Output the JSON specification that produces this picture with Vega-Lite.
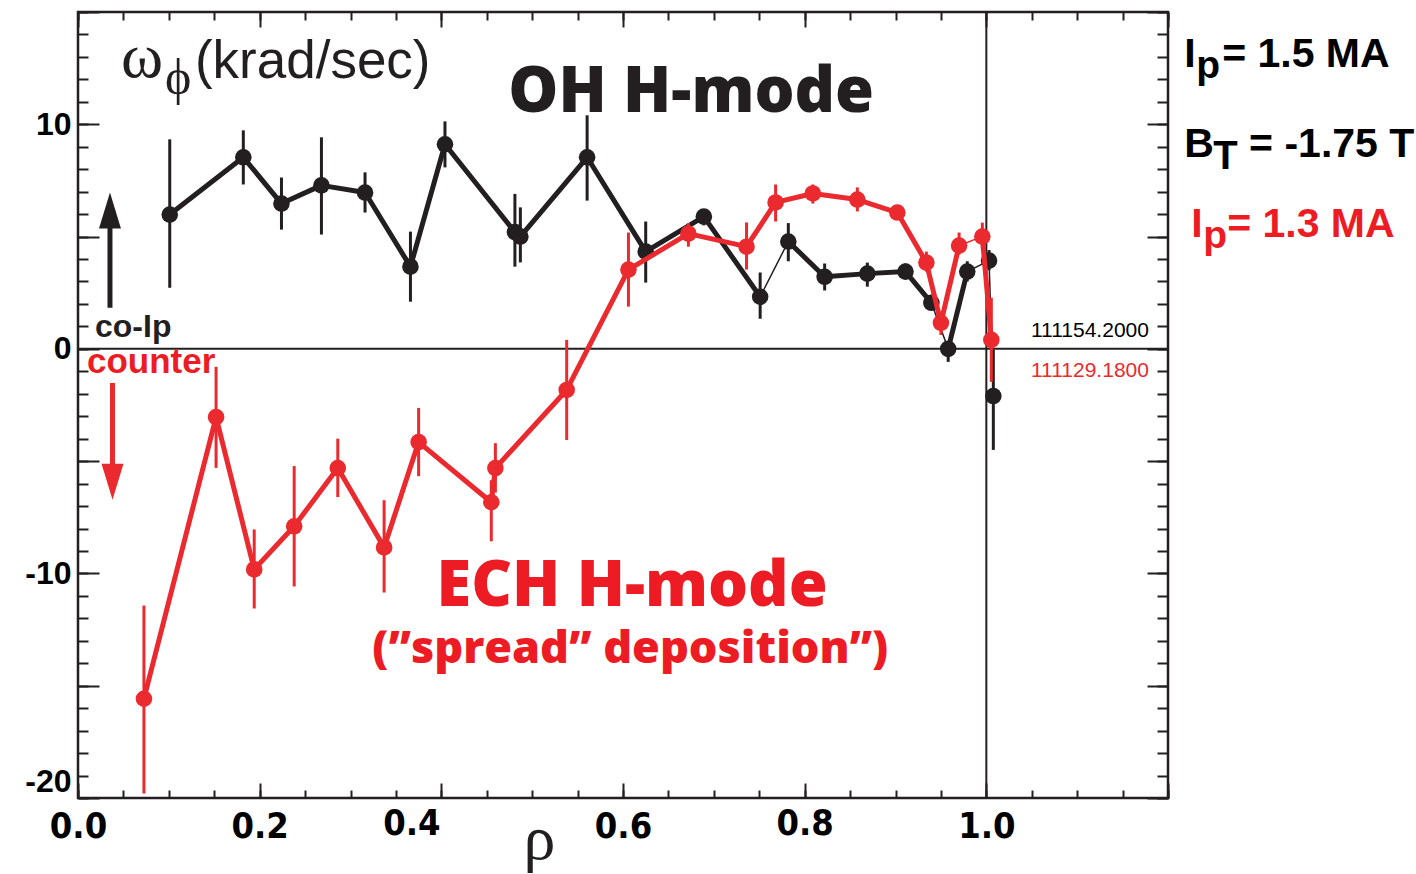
{
  "$schema": "https://vega.github.io/schema/vega-lite/v6.json",
  "width": 1090,
  "height": 786,
  "autosize": "none",
  "padding": {"left": 78, "top": 12, "right": 248, "bottom": 76},
  "background": "white",
  "config": {
    "view": {"stroke": "#231f20", "strokeWidth": 2.5},
    "axis": {"domain": false, "grid": false, "tickColor": "#231f20", "tickWidth": 2, "title": null, "labelOverlap": false}
  },
  "resolve": {"axis": {"x": "independent", "y": "independent"}},
  "datasets": {
    "oh": [
      {"rho": 0.101, "w": 5.98, "lo": 2.72, "hi": 9.33, "seg": "a"},
      {"rho": 0.182, "w": 8.53, "lo": 7.32, "hi": 9.73, "seg": "a"},
      {"rho": 0.224, "w": 6.47, "lo": 5.31, "hi": 7.63, "seg": "a"},
      {"rho": 0.268, "w": 7.28, "lo": 5.09, "hi": 9.42, "seg": "a"},
      {"rho": 0.316, "w": 6.96, "lo": 6.07, "hi": 7.86, "seg": "a"},
      {"rho": 0.366, "w": 3.66, "lo": 2.1, "hi": 5.22, "seg": "a"},
      {"rho": 0.404, "w": 9.11, "lo": 8.08, "hi": 10.13, "seg": "a"},
      {"rho": 0.481, "w": 5.2, "lo": 3.66, "hi": 6.9, "seg": "a"},
      {"rho": 0.487, "w": 5.0, "lo": 3.85, "hi": 6.3, "seg": "a"},
      {"rho": 0.5605, "w": 8.53, "lo": 6.6, "hi": 10.4, "seg": "a"},
      {"rho": 0.625, "w": 4.33, "lo": 2.95, "hi": 5.67, "seg": "a"},
      {"rho": 0.689, "w": 5.89, "lo": 5.5, "hi": 6.2, "seg": "a"},
      {"rho": 0.751, "w": 2.32, "lo": 1.34, "hi": 3.4, "seg": "a"},
      {"rho": 0.782, "w": 4.78, "lo": 3.9, "hi": 5.6, "seg": "b"},
      {"rho": 0.822, "w": 3.21, "lo": 2.6, "hi": 3.8, "seg": "b"},
      {"rho": 0.869, "w": 3.35, "lo": 2.77, "hi": 3.84, "seg": "b"},
      {"rho": 0.911, "w": 3.44, "lo": 3.1, "hi": 3.8, "seg": "b"},
      {"rho": 0.9395, "w": 2.05, "lo": 1.74, "hi": 2.4, "seg": "b"},
      {"rho": 0.958, "w": 0.0, "lo": -0.58, "hi": 0.3, "seg": "c"},
      {"rho": 0.979, "w": 3.44, "lo": 3.0, "hi": 3.9, "seg": "c"},
      {"rho": 1.003, "w": 3.93, "lo": 3.5, "hi": 4.4, "seg": "d"},
      {"rho": 1.0077, "w": -2.1, "lo": -4.5, "hi": -0.04, "seg": "e"}
    ],
    "ech": [
      {"rho": 0.0726, "w": -15.58, "lo": -19.8, "hi": -11.43, "seg": "a"},
      {"rho": 0.152, "w": -3.04, "lo": -5.3, "hi": -0.8, "seg": "a"},
      {"rho": 0.194, "w": -9.82, "lo": -11.56, "hi": -8.04, "seg": "a"},
      {"rho": 0.238, "w": -7.9, "lo": -10.58, "hi": -5.22, "seg": "a"},
      {"rho": 0.286, "w": -5.31, "lo": -6.6, "hi": -4.0, "seg": "a"},
      {"rho": 0.337, "w": -8.84, "lo": -10.85, "hi": -6.74, "seg": "a"},
      {"rho": 0.375, "w": -4.15, "lo": -5.67, "hi": -2.63, "seg": "a"},
      {"rho": 0.455, "w": -6.83, "lo": -8.57, "hi": -5.85, "seg": "a"},
      {"rho": 0.4595, "w": -5.31, "lo": -6.4, "hi": -4.2, "seg": "a"},
      {"rho": 0.538, "w": -1.83, "lo": -4.06, "hi": 0.4, "seg": "a"},
      {"rho": 0.606, "w": 3.53, "lo": 1.88, "hi": 5.18, "seg": "a"},
      {"rho": 0.672, "w": 5.13, "lo": 4.55, "hi": 5.6, "seg": "a"},
      {"rho": 0.736, "w": 4.55, "lo": 3.53, "hi": 5.63, "seg": "a"},
      {"rho": 0.768, "w": 6.52, "lo": 5.67, "hi": 7.32, "seg": "a"},
      {"rho": 0.809, "w": 6.92, "lo": 6.47, "hi": 7.32, "seg": "a"},
      {"rho": 0.858, "w": 6.65, "lo": 6.12, "hi": 7.19, "seg": "a"},
      {"rho": 0.902, "w": 6.07, "lo": 5.8, "hi": 6.35, "seg": "a"},
      {"rho": 0.934, "w": 3.84, "lo": 3.44, "hi": 4.33, "seg": "a"},
      {"rho": 0.95, "w": 1.16, "lo": 0.62, "hi": 1.65, "seg": "a"},
      {"rho": 0.97, "w": 4.6, "lo": 4.2, "hi": 5.18, "seg": "a"},
      {"rho": 0.9956, "w": 5.0, "lo": 4.42, "hi": 5.62, "seg": "b"},
      {"rho": 1.0055, "w": 0.4, "lo": -1.47, "hi": 2.28, "seg": "b"}
    ]
  },
  "layer": [
    {
      "data": {"values": [{}]},
      "mark": {"type": "rule", "color": "#231f20", "strokeWidth": 2},
      "encoding": {"y": {"datum": 0, "type": "quantitative", "scale": {"domain": [-20, 15], "nice": false, "zero": false}, "axis": null}}
    },
    {
      "data": {"values": [{}]},
      "mark": {"type": "rule", "color": "#231f20", "strokeWidth": 2},
      "encoding": {"x": {"datum": 1, "type": "quantitative", "scale": {"domain": [0, 1.2], "nice": false, "zero": false}, "axis": null}}
    },
    {
      "data": {"name": "oh"},
      "mark": {"type": "rule", "color": "#231f20", "strokeWidth": 3},
      "encoding": {
        "x": {"field": "rho", "type": "quantitative", "scale": {"domain": [0, 1.2], "nice": false, "zero": false},
          "axis": {"orient": "top", "values": [0,0.05,0.1,0.15,0.2,0.25,0.3,0.35,0.4,0.45,0.5,0.55,0.6,0.65,0.7,0.75,0.8,0.85,0.9,0.95,1,1.05,1.1,1.15,1.2], "tickSize": -8, "labels": false, "title": null}},
        "y": {"field": "lo", "type": "quantitative", "scale": {"domain": [-20, 15], "nice": false, "zero": false},
          "axis": {"orient": "right", "values": [-20,-19,-18,-17,-16,-15,-14,-13,-12,-11,-10,-9,-8,-7,-6,-5,-4,-3,-2,-1,0,1,2,3,4,5,6,7,8,9,10,11,12,13,14,15], "tickSize": -11, "labels": false, "title": null}},
        "y2": {"field": "hi"}
      }
    },
    {
      "data": {"name": "oh"},
      "mark": {"type": "line", "color": "#231f20", "strokeWidth": 1.5},
      "encoding": {
        "x": {"field": "rho", "type": "quantitative", "scale": {"domain": [0, 1.2], "nice": false, "zero": false},
          "axis": {"orient": "bottom", "values": [0,0.05,0.1,0.15,0.2,0.25,0.3,0.35,0.4,0.45,0.5,0.55,0.6,0.65,0.7,0.75,0.8,0.85,0.9,0.95,1,1.05,1.1,1.15,1.2], "tickSize": -8, "labels": false, "title": null}},
        "y": {"field": "w", "type": "quantitative", "scale": {"domain": [-20, 15], "nice": false, "zero": false},
          "axis": {"orient": "left", "values": [-20,-19,-18,-17,-16,-15,-14,-13,-12,-11,-10,-9,-8,-7,-6,-5,-4,-3,-2,-1,0,1,2,3,4,5,6,7,8,9,10,11,12,13,14,15], "tickSize": -10, "labels": false, "title": null}}
      }
    },
    {
      "data": {"name": "oh"},
      "mark": {"type": "line", "color": "#231f20", "strokeWidth": 5, "strokeJoin": "round"},
      "encoding": {
        "x": {"field": "rho", "type": "quantitative", "scale": {"domain": [0, 1.2], "nice": false, "zero": false}, "axis": null},
        "y": {"field": "w", "type": "quantitative", "scale": {"domain": [-20, 15], "nice": false, "zero": false}, "axis": null},
        "detail": {"field": "seg"}
      }
    },
    {
      "data": {"name": "oh"},
      "mark": {"type": "circle", "color": "#231f20", "size": 275, "opacity": 1},
      "encoding": {
        "x": {"field": "rho", "type": "quantitative", "scale": {"domain": [0, 1.2], "nice": false, "zero": false}, "axis": null},
        "y": {"field": "w", "type": "quantitative", "scale": {"domain": [-20, 15], "nice": false, "zero": false}, "axis": null}
      }
    },
    {
      "data": {"name": "ech"},
      "mark": {"type": "rule", "color": "#ea2a2e", "strokeWidth": 3},
      "encoding": {
        "x": {"field": "rho", "type": "quantitative", "scale": {"domain": [0, 1.2], "nice": false, "zero": false},
          "axis": {"orient": "top", "values": [0, 0.2, 0.4, 0.6, 0.8, 1, 1.2], "tickSize": -15, "labels": false, "title": null}},
        "y": {"field": "lo", "type": "quantitative", "scale": {"domain": [-20, 15], "nice": false, "zero": false},
          "axis": {"orient": "right", "values": [-20, -15, -10, -5, 0, 5, 10, 15], "tickSize": -21, "labels": false, "title": null}},
        "y2": {"field": "hi"}
      }
    },
    {
      "data": {"name": "ech"},
      "mark": {"type": "line", "color": "#ea2a2e", "strokeWidth": 1.5},
      "encoding": {
        "x": {"field": "rho", "type": "quantitative", "scale": {"domain": [0, 1.2], "nice": false, "zero": false},
          "axis": {"orient": "bottom", "values": [0, 0.2, 0.4, 0.6, 0.8, 1, 1.2], "tickSize": -15, "format": ".1f",
            "labelExpr": "datum.value > 1.1 ? '' : datum.label",
            "labelFont": "DejaVu Sans Condensed", "labelFontWeight": "bold", "labelFontSize": 36, "labelColor": "#000000",
            "labelPadding": {"condition": {"test": "abs(datum.value - 0.4) < 0.01 || abs(datum.value - 0.8) < 0.01", "value": 23}, "value": 26},
            "labelOffset": {"condition": {"test": "abs(datum.value - 0.4) < 0.01", "value": -30}, "value": 0},
            "labelFlush": false, "title": null}},
        "y": {"field": "w", "type": "quantitative", "scale": {"domain": [-20, 15], "nice": false, "zero": false},
          "axis": {"orient": "left", "values": [-20, -15, -10, -5, 0, 5, 10, 15], "tickSize": -21,
            "labelExpr": "(datum.value % 10 == 0 && datum.value < 12) ? ('' + datum.value) : ''",
            "labelFont": "Liberation Sans", "labelFontWeight": "bold", "labelFontSize": 32, "labelColor": "#000000",
            "labelPadding": 28, "labelFlush": true, "title": null}}
      }
    },
    {
      "data": {"name": "ech"},
      "mark": {"type": "line", "color": "#ea2a2e", "strokeWidth": 5, "strokeJoin": "round"},
      "encoding": {
        "x": {"field": "rho", "type": "quantitative", "scale": {"domain": [0, 1.2], "nice": false, "zero": false}, "axis": null},
        "y": {"field": "w", "type": "quantitative", "scale": {"domain": [-20, 15], "nice": false, "zero": false}, "axis": null},
        "detail": {"field": "seg"}
      }
    },
    {
      "data": {"name": "ech"},
      "mark": {"type": "circle", "color": "#ea2a2e", "size": 275, "opacity": 1},
      "encoding": {
        "x": {"field": "rho", "type": "quantitative", "scale": {"domain": [0, 1.2], "nice": false, "zero": false}, "axis": null},
        "y": {"field": "w", "type": "quantitative", "scale": {"domain": [-20, 15], "nice": false, "zero": false}, "axis": null}
      }
    },
    {
      "data": {"values": [{}]},
      "mark": {"type": "rule", "color": "#231f20", "strokeWidth": 5},
      "encoding": {
        "x": {"datum": 0.0352, "type": "quantitative", "axis": null},
        "y": {"datum": 1.83, "type": "quantitative", "axis": null},
        "y2": {"datum": 6.3}
      }
    },
    {
      "data": {"values": [{}]},
      "mark": {"type": "point", "shape": "M0,-1L0.61,1L-0.61,1Z", "size": 1296, "filled": true, "color": "#231f20", "opacity": 1},
      "encoding": {
        "x": {"datum": 0.0352, "type": "quantitative", "axis": null},
        "y": {"datum": 6.16, "type": "quantitative", "axis": null}
      }
    },
    {
      "data": {"values": [{}]},
      "mark": {"type": "rule", "color": "#ea2a2e", "strokeWidth": 5},
      "encoding": {
        "x": {"datum": 0.038, "type": "quantitative", "axis": null},
        "y": {"datum": -1.52, "type": "quantitative", "axis": null},
        "y2": {"datum": -5.6}
      }
    },
    {
      "data": {"values": [{}]},
      "mark": {"type": "point", "shape": "M0,1L0.61,-1L-0.61,-1Z", "size": 1296, "filled": true, "color": "#ea2a2e", "opacity": 1},
      "encoding": {
        "x": {"datum": 0.038, "type": "quantitative", "axis": null},
        "y": {"datum": -5.92, "type": "quantitative", "axis": null}
      }
    },
    {
      "data": {"values": [{}]},
      "mark": {"type": "text", "text": "ω", "font": "Liberation Serif", "fontSize": 64, "align": "left", "baseline": "alphabetic", "color": "#231f20"},
      "encoding": {"x": {"datum": 0.0473, "type": "quantitative", "axis": null}, "y": {"datum": 12.1, "type": "quantitative", "axis": null}}
    },
    {
      "data": {"values": [{}]},
      "mark": {"type": "text", "text": "ϕ", "font": "Liberation Serif", "fontSize": 50, "align": "left", "baseline": "alphabetic", "color": "#231f20"},
      "encoding": {"x": {"datum": 0.0957, "type": "quantitative", "axis": null}, "y": {"datum": 11.34, "type": "quantitative", "axis": null}}
    },
    {
      "data": {"values": [{}]},
      "mark": {"type": "text", "text": "(krad/sec)", "font": "Liberation Sans", "fontSize": 53, "align": "left", "baseline": "alphabetic", "color": "#231f20"},
      "encoding": {"x": {"datum": 0.1287, "type": "quantitative", "axis": null}, "y": {"datum": 12.04, "type": "quantitative", "axis": null}}
    },
    {
      "data": {"values": [{}]},
      "mark": {"type": "text", "text": "OH H-mode", "font": "Open Sans", "fontWeight": 800, "fontSize": 63, "align": "center", "baseline": "alphabetic", "color": "#231f20"},
      "encoding": {"x": {"datum": 0.675, "type": "quantitative", "axis": null}, "y": {"datum": 10.54, "type": "quantitative", "axis": null}}
    },
    {
      "data": {"values": [{}]},
      "mark": {"type": "text", "text": "ECH H-mode", "font": "Open Sans", "fontWeight": 800, "fontSize": 63, "align": "center", "baseline": "alphabetic", "color": "#ed1c24"},
      "encoding": {"x": {"datum": 0.61, "type": "quantitative", "axis": null}, "y": {"datum": -11.43, "type": "quantitative", "axis": null}}
    },
    {
      "data": {"values": [{}]},
      "mark": {"type": "text", "text": "(”spread” deposition”)", "font": "Open Sans", "fontWeight": 800, "fontSize": 45, "align": "center", "baseline": "alphabetic", "color": "#ed1c24"},
      "encoding": {"x": {"datum": 0.608, "type": "quantitative", "axis": null}, "y": {"datum": -13.98, "type": "quantitative", "axis": null}}
    },
    {
      "data": {"values": [{}]},
      "mark": {"type": "text", "text": "co-Ip", "font": "Liberation Sans", "fontWeight": "bold", "fontSize": 32, "align": "left", "baseline": "alphabetic", "color": "#231f20"},
      "encoding": {"x": {"datum": 0.0187, "type": "quantitative", "axis": null}, "y": {"datum": 0.54, "type": "quantitative", "axis": null}}
    },
    {
      "data": {"values": [{}]},
      "mark": {"type": "text", "text": "counter", "font": "Liberation Sans", "fontWeight": "bold", "fontSize": 35, "align": "left", "baseline": "alphabetic", "color": "#ed1c24"},
      "encoding": {"x": {"datum": 0.0099, "type": "quantitative", "axis": null}, "y": {"datum": -1.07, "type": "quantitative", "axis": null}}
    },
    {
      "data": {"values": [{}]},
      "mark": {"type": "text", "text": "111154.2000", "font": "Liberation Sans", "fontSize": 21, "align": "right", "baseline": "alphabetic", "color": "#000000"},
      "encoding": {"x": {"datum": 1.179, "type": "quantitative", "axis": null}, "y": {"datum": 0.54, "type": "quantitative", "axis": null}}
    },
    {
      "data": {"values": [{}]},
      "mark": {"type": "text", "text": "111129.1800", "font": "Liberation Sans", "fontSize": 21, "align": "right", "baseline": "alphabetic", "color": "#ea2a2e"},
      "encoding": {"x": {"datum": 1.179, "type": "quantitative", "axis": null}, "y": {"datum": -1.25, "type": "quantitative", "axis": null}}
    },
    {
      "data": {"values": [{}]},
      "mark": {"type": "text", "text": "ρ", "font": "Liberation Serif", "fontSize": 64, "align": "center", "baseline": "alphabetic", "color": "#231f20"},
      "encoding": {"x": {"datum": 0.508, "type": "quantitative", "axis": null}, "y": {"datum": -22.7, "type": "quantitative", "axis": null}}
    },
    {
      "data": {"values": [{}]},
      "mark": {"type": "text", "text": "I", "font": "Liberation Sans", "fontWeight": "bold", "fontSize": 41, "align": "left", "baseline": "alphabetic", "color": "#000000"},
      "encoding": {"x": {"datum": 1.2178, "type": "quantitative", "axis": null}, "y": {"datum": 12.54, "type": "quantitative", "axis": null}}
    },
    {
      "data": {"values": [{}]},
      "mark": {"type": "text", "text": "p", "font": "Liberation Sans", "fontWeight": "bold", "fontSize": 39, "align": "left", "baseline": "alphabetic", "color": "#000000"},
      "encoding": {"x": {"datum": 1.2310, "type": "quantitative", "axis": null}, "y": {"datum": 12.05, "type": "quantitative", "axis": null}}
    },
    {
      "data": {"values": [{}]},
      "mark": {"type": "text", "text": "= 1.5 MA", "font": "Liberation Sans", "fontWeight": "bold", "fontSize": 41, "align": "left", "baseline": "alphabetic", "color": "#000000"},
      "encoding": {"x": {"datum": 1.2596, "type": "quantitative", "axis": null}, "y": {"datum": 12.54, "type": "quantitative", "axis": null}}
    },
    {
      "data": {"values": [{}]},
      "mark": {"type": "text", "text": "B", "font": "Liberation Sans", "fontWeight": "bold", "fontSize": 41, "align": "left", "baseline": "alphabetic", "color": "#000000"},
      "encoding": {"x": {"datum": 1.2178, "type": "quantitative", "axis": null}, "y": {"datum": 8.53, "type": "quantitative", "axis": null}}
    },
    {
      "data": {"values": [{}]},
      "mark": {"type": "text", "text": "T", "font": "Liberation Sans", "fontWeight": "bold", "fontSize": 40, "align": "left", "baseline": "alphabetic", "color": "#000000"},
      "encoding": {"x": {"datum": 1.2497, "type": "quantitative", "axis": null}, "y": {"datum": 8.0, "type": "quantitative", "axis": null}}
    },
    {
      "data": {"values": [{}]},
      "mark": {"type": "text", "text": "= -1.75 T", "font": "Liberation Sans", "fontWeight": "bold", "fontSize": 41, "align": "left", "baseline": "alphabetic", "color": "#000000"},
      "encoding": {"x": {"datum": 1.2893, "type": "quantitative", "axis": null}, "y": {"datum": 8.53, "type": "quantitative", "axis": null}}
    },
    {
      "data": {"values": [{}]},
      "mark": {"type": "text", "text": "I", "font": "Liberation Sans", "fontWeight": "bold", "fontSize": 41, "align": "left", "baseline": "alphabetic", "color": "#ed1c24"},
      "encoding": {"x": {"datum": 1.2255, "type": "quantitative", "axis": null}, "y": {"datum": 5.0, "type": "quantitative", "axis": null}}
    },
    {
      "data": {"values": [{}]},
      "mark": {"type": "text", "text": "p", "font": "Liberation Sans", "fontWeight": "bold", "fontSize": 39, "align": "left", "baseline": "alphabetic", "color": "#ed1c24"},
      "encoding": {"x": {"datum": 1.2387, "type": "quantitative", "axis": null}, "y": {"datum": 4.51, "type": "quantitative", "axis": null}}
    },
    {
      "data": {"values": [{}]},
      "mark": {"type": "text", "text": "= 1.3 MA", "font": "Liberation Sans", "fontWeight": "bold", "fontSize": 41, "align": "left", "baseline": "alphabetic", "color": "#ed1c24"},
      "encoding": {"x": {"datum": 1.2651, "type": "quantitative", "axis": null}, "y": {"datum": 5.0, "type": "quantitative", "axis": null}}
    }
  ]
}
